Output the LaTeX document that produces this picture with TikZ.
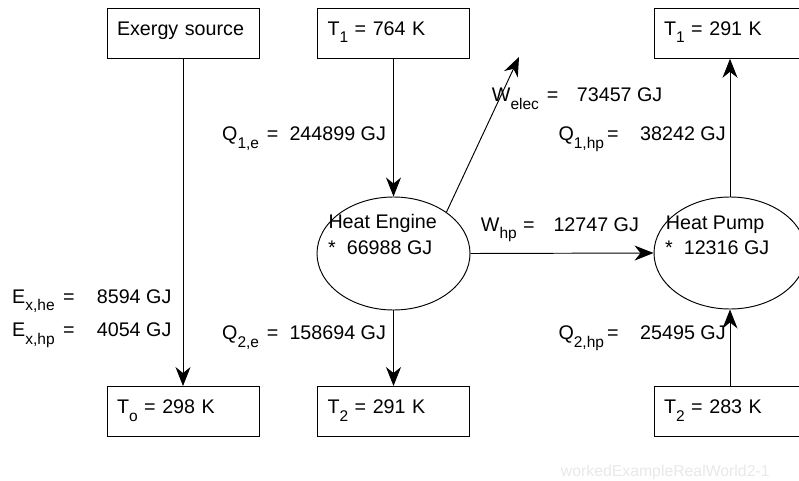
\documentclass[tikz,border=0pt]{standalone}
\usepackage{fontspec}
\setmainfont{Liberation Sans}
\usetikzlibrary{arrows.meta,shapes.geometric}
\definecolor{wmgray}{RGB}{232,232,232}
\newcommand{\lowsub}[1]{\raisebox{-7.5pt}{\fontsize{15.5}{16}\selectfont #1}}
\newcommand{\flowlbl}[4]{\makebox[#2][l]{#1}\makebox[#3][l]{=}#4}
\begin{document}
\begin{tikzpicture}[x=1pt,y=-1pt,
  font=\fontsize{19.7}{24}\selectfont,
  box/.style={draw, line width=0.95pt, minimum width=152pt, minimum height=50pt,
    text width=132pt, inner xsep=10pt, inner ysep=0pt, align=left,
    text height=14pt, text depth=10pt},
  ell/.style={draw, ellipse, line width=0.95pt, inner sep=0pt},
  lbl/.style={anchor=base west, inner sep=0pt},
  flow/.style={draw, line width=0.95pt, -{Stealth[length=19pt,width=15pt,inset=6pt]}}
]
\useasboundingbox (0,0) rectangle (799,481);
\clip (0,0) rectangle (799,481);

% boxes
\node[box] (src)  at (183,33.3)   {Exergy source};
\node[box] (t1e)  at (393.5,33.3) {T\lowsub{1} = 764 K};
\node[box] (t1hp) at (730,33.3)   {T\lowsub{1} = 291 K};
\node[box] (t0)   at (183,411.5)  {T\lowsub{o} = 298 K};
\node[box] (t2e)  at (393.5,411.5){T\lowsub{2} = 291 K};
\node[box] (t2hp) at (730,411.5)  {T\lowsub{2} = 283 K};

% ellipses
\node[ell, minimum width=153pt, minimum height=113pt] (he) at (393.5,253.5) {};
\node[ell, minimum width=152pt, minimum height=112pt] (hp) at (730,253) {};

% ellipse texts
\node[lbl] (hename) at (328.3,228.3) {Heat Engine};
\node[lbl] (heval)  at (328,254)     {*\ \ 66988 GJ};
\node[lbl] (hpname) at (665.7,229)   {Heat Pump};
\node[lbl] (hpval)  at (665,254)     {*\ \ 12316 GJ};

% connectors
\coordinate (welecend) at (519,57);
\draw[flow] (src.south) -- (t0.north);
\draw[flow] (t1e.south) -- (he.north);
\draw[flow] (he.south) -- (t2e.north);
\draw[flow] (he.east) -- (hp.west);
\draw[flow] (hp.north) -- (t1hp.south);
\draw[flow] (t2hp.north) -- (hp.south);
\draw[flow] (he.38) -- (welecend);

% flow labels
\node[lbl] (lq1e)   at (222,141)   {\flowlbl{Q\lowsub{1,e}}{44.7pt}{22.6pt}{244899 GJ}};
\node[lbl] (lwelec) at (491.7,102) {\flowlbl{W\lowsub{elec}}{55pt}{30pt}{73457 GJ}};
\node[lbl] (lq1hp)  at (558.3,141) {\flowlbl{Q\lowsub{1,hp}}{48.7pt}{33pt}{38242 GJ}};
\node[lbl] (lwhp)   at (480.7,231) {\flowlbl{W\lowsub{hp}}{42.3pt}{30.3pt}{12747 GJ}};
\node[lbl] (lexhe)  at (12,303)    {\flowlbl{E\lowsub{x,he}}{51pt}{33.7pt}{8594 GJ}};
\node[lbl] (lexhp)  at (12,336.5)  {\flowlbl{E\lowsub{x,hp}}{51pt}{33.7pt}{4054 GJ}};
\node[lbl] (lq2e)   at (222,339.5) {\flowlbl{Q\lowsub{2,e}}{44.7pt}{22.6pt}{158694 GJ}};
\node[lbl] (lq2hp)  at (558.3,339.5) {\flowlbl{Q\lowsub{2,hp}}{48.7pt}{33pt}{25495 GJ}};

% watermark
\node[lbl, text=wmgray, font=\fontsize{15.8}{18}\selectfont] (wm) at (560.7,476.7) {workedExampleRealWorld2-1};
\end{tikzpicture}
\end{document}
